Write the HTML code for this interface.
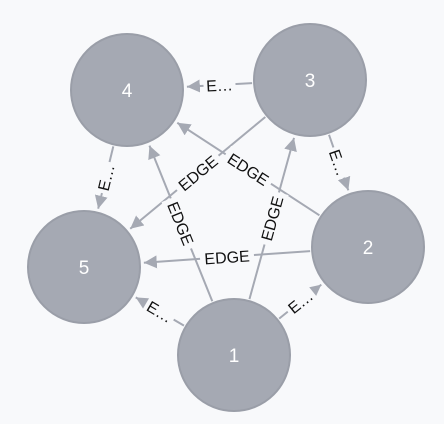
<!DOCTYPE html>
<html><head><meta charset="utf-8"><style>
html,body{margin:0;padding:0;background:#f8f9fb;}
svg{display:block;font-family:"Liberation Sans",Arial,sans-serif;}
</style></head><body>
<svg id="g" width="444" height="424" viewBox="0 0 444 424">
<defs><marker id="arr" viewBox="0 0 10 10" refX="10" refY="5" markerWidth="6.5" markerHeight="6.5" markerUnits="strokeWidth" orient="auto"><path d="M0,0 L10,5 L0,10 z" fill="#a5a9b3"/></marker></defs>
<g id="edges"></g><g id="nodes"></g><g id="labels"></g>
</svg>
<script>
const nodeIds=['1','2','3','4','5'];
const nodeX=[234,368,310,127,84];
const nodeY=[355,247,80,90,267];
const R=57;
const edgeSrc=['3','4','3','1','1','3','2','1','1','2'];
const edgeDst=['4','5','2','5','2','5','4','4','3','5'];
const edgeLabel=['E…','E…','E…','E…','E…','EDGE','EDGE','EDGE','EDGE','EDGE'];
const NS='http://www.w3.org/2000/svg';
function mk(t,a,p){const e=document.createElementNS(NS,t);for(const k in a)e.setAttribute(k,a[k]);p.appendChild(e);return e;}
function pos(id){const i=nodeIds.indexOf(id);return [nodeX[i],nodeY[i]];}
const eg=document.getElementById('edges'),lg=document.getElementById('labels'),ng=document.getElementById('nodes');
edgeSrc.forEach((s,i)=>{
 const [x1,y1]=pos(s),[x2,y2]=pos(edgeDst[i]);
 const dx=x2-x1,dy=y2-y1,L=Math.hypot(dx,dy),ux=dx/L,uy=dy/L;
 const sx=x1+ux*(R+1),sy=y1+uy*(R+1),tx=x2-ux*(R+3),ty=y2-uy*(R+3);
 const ln=mk('line',{x1:sx,y1:sy,x2:tx,y2:ty,stroke:'#a5a9b3','stroke-width':2,'marker-end':'url(#arr)'},eg);
 
 
 let ang=Math.atan2(dy,dx)*180/Math.PI;
 if(ang>90)ang-=180;if(ang<-90)ang+=180;
 const mx=(sx+tx)/2,my=(sy+ty)/2;
 const g=mk('g',{transform:`translate(${mx},${my}) rotate(${ang})`},lg);
 
 
 const w=edgeLabel[i].length>2?54:32;
 mk('rect',{x:-w/2,y:-10,width:w,height:20,fill:'#f8f9fb'},g);
 const t=mk('text',{x:0,y:6,'text-anchor':'middle','font-size':16,fill:'#111'},g);
 t.textContent=edgeLabel[i];
});
nodeIds.forEach((id,i)=>{
 const g=mk('g',{},ng);
 
 
 mk('circle',{cx:nodeX[i],cy:nodeY[i],r:R-1,fill:'#a5a9b3',stroke:'#9a9ea8','stroke-width':2},g);
 const t=mk('text',{x:nodeX[i],y:nodeY[i]+7,'text-anchor':'middle','font-size':19,fill:'#fff'},g);
 t.textContent=id;
});
</script>
</body></html>
